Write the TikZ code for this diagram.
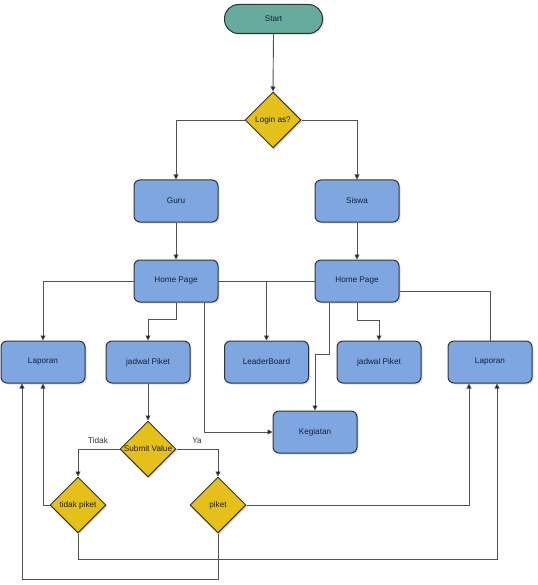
\documentclass[tikz,border=0pt]{standalone}
\usepackage{fontspec}
\setmainfont{Liberation Sans}
\usetikzlibrary{shapes.geometric,arrows.meta,shadows}
\definecolor{teal}{HTML}{67AB9F}
\definecolor{boxblue}{HTML}{7EA6E0}
\definecolor{gold}{HTML}{E5C01A}
\definecolor{stroke}{HTML}{333333}
\definecolor{txt}{HTML}{14203A}
\tikzset{
  shad/.style={drop shadow={shadow xshift=1.5pt,shadow yshift=-1.5pt,opacity=0.25,fill=gray}},
  term/.style={draw=stroke,line width=1pt,fill=teal,rounded corners=14pt,minimum width=98pt,minimum height=29pt,inner sep=0pt,font=\fontsize{8.2}{9}\selectfont,text=txt,shad},
  box/.style={draw=stroke,line width=1pt,fill=boxblue,rounded corners=6pt,minimum width=84pt,minimum height=42pt,inner sep=0pt,font=\fontsize{8.2}{9}\selectfont,text=txt,shad},
  dec/.style={diamond,draw=stroke,line width=1pt,fill=gold,minimum width=56pt,minimum height=56pt,inner sep=0pt,shad,
    label={[font=\fontsize{8.2}{9}\selectfont,text=txt]center:#1}},
  conn/.style={draw=stroke!85,line width=0.9pt},
  arr/.style={conn,-{Triangle[length=5pt,width=5pt,fill=black]}},
  lbl/.style={font=\fontsize{8.2}{9}\selectfont,text=stroke,inner sep=0pt}
}
\begin{document}
\begin{tikzpicture}[x=1pt,y=-1pt]
\useasboundingbox[fill=white] (0,0) rectangle (537,585);
\node[term] (start) at (273.5,19) {Start};
\node[dec=Login as?] (login) at (273,120) {};
\node[box] (guru) at (176,201) {Guru};
\node[box] (siswa) at (357,201) {Siswa};
\node[box] (hp1) at (176,281) {Home Page};
\node[box] (hp2) at (357,281) {Home Page};
\node[box] (lap1) at (43,362) {Laporan};
\node[box] (jp1) at (148,362) {jadwal Piket};
\node[box] (lb) at (266.5,362) {LeaderBoard};
\node[box] (jp2) at (379,362) {jadwal Piket};
\node[box] (lap2) at (490,362) {Laporan};
\node[box] (keg) at (315,432) {Kegiatan};
\node[dec=Submit Value] (sv) at (148,449) {};
\node[dec=tidak piket] (tp) at (78,505) {};
\node[dec=piket] (pk) at (218,505) {};
\node[lbl] (tidak) at (98,441) {Tidak};
\node[lbl] (ya) at (197,441) {Ya};

\draw[arr] (start.south) -- (login.north);
\draw[arr] (login.west) -| (guru.north);
\draw[arr] (login.east) -| (siswa.north);
\draw[arr] (guru.south) -- (hp1.north);
\draw[arr] (siswa.south) -- (hp2.north);
\draw[arr] (hp1.west) -| (lap1.north);
\draw[arr] (hp1.east) -| (lb.north);
\draw[conn] (hp2.west) -- (lb.north |- hp2.west);
\draw[arr] (hp1.south) -- ++(0,17) -| (jp1.north);
\draw[arr] ([xshift=28pt]hp1.south) |- (keg.west);
\draw[arr] ([xshift=-28pt]hp2.south) -- ++(0,52) -| (keg.north);
\draw[arr] (hp2.south) -- ++(0,18) -| (jp2.north);
\draw[conn] ([yshift=-10pt]hp2.east) -| (lap2.north);
\draw[arr] (jp1.south) -- (sv.north);
\draw[arr] (sv.west) -| (tp.north);
\draw[arr] (sv.east) -| (pk.north);
\draw[arr] (tp.west) -| (lap1.south);
\draw[arr] (tp.south) -- ++(0,26) -| ([xshift=7pt]lap2.south);
\draw[arr] (pk.south) -- ++(0,46) -| ([xshift=-21pt]lap1.south);
\draw[arr] (pk.east) -| ([xshift=-21pt]lap2.south);
\end{tikzpicture}
\end{document}
